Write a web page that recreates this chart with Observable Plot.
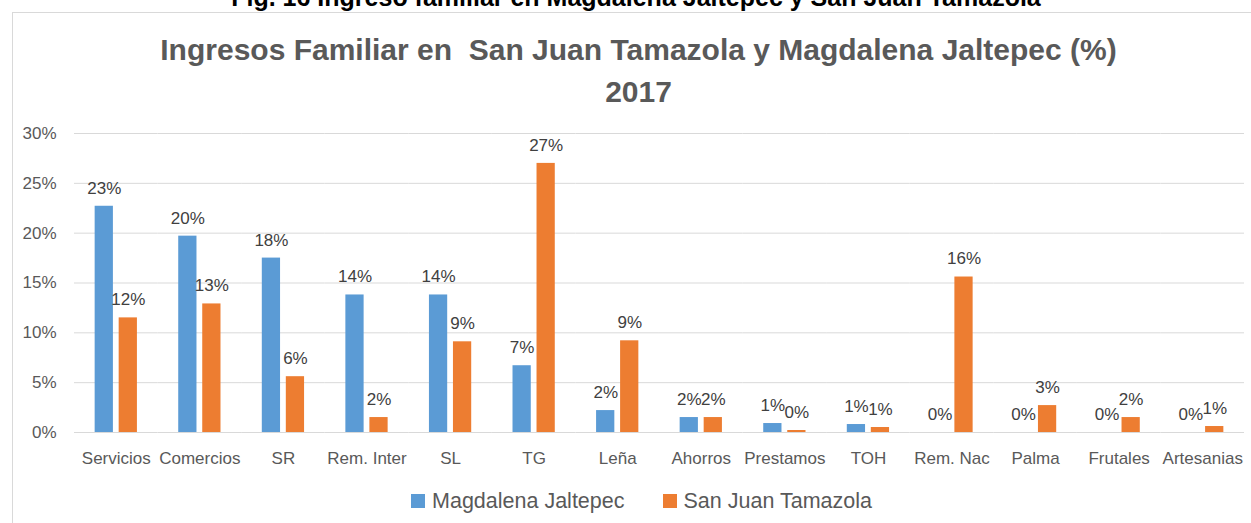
<!DOCTYPE html>
<html>
<head>
<meta charset="utf-8">
<script src="https://cdn.jsdelivr.net/npm/d3@7"></script>
<script src="https://cdn.jsdelivr.net/npm/@observablehq/plot@0.6"></script>
<style>
  html, body { margin: 0; padding: 0; background: #fff; overflow: hidden; }
  #page { position: relative; width: 1251px; height: 523px; overflow: hidden; font-family: "Liberation Sans", Arial, sans-serif; }
  #fig { position: absolute; left: 0; width: 1272px; top: -15px; line-height: 25px; text-align: center; font-weight: bold; font-size: 25px; color: #000; white-space: nowrap; }
  #frame { position: absolute; left: 12px; top: 12px; width: 1300px; height: 600px; border: 1px solid #d9d9d9; box-sizing: border-box; }
  #title { position: absolute; left: 0; width: 1277px; top: 29px; text-align: center; font-weight: bold; font-size: 30px; line-height: 42px; color: #595959; white-space: nowrap; }
  #chart { position: absolute; left: 0; top: 110px; }
  #legend { position: absolute; left: 0; width: 1283px; top: 486px; height: 30px; display: flex; justify-content: center; align-items: center; font-size: 21.5px; color: #595959; }
  #legend span.item { display: flex; align-items: center; margin: 0 19px; }
  #legend span.sw { display: inline-block; width: 14px; height: 14px; margin-right: 7px; }
</style>
</head>
<body>
<div id="page">
  <div id="frame"></div>
  <div id="fig">Fig. 16 Ingreso familiar en Magdalena Jaltepec y San Juan Tamazola</div>
  <div id="title">Ingresos Familiar en&nbsp; San Juan Tamazola y Magdalena Jaltepec (%)<br>2017</div>
  <div id="chart"></div>
  <div id="legend"></div>
</div>
<script>
const categories = ["Servicios", "Comercios", "SR", "Rem. Inter", "SL", "TG", "Leña", "Ahorros", "Prestamos", "TOH", "Rem. Nac", "Palma", "Frutales", "Artesanias"];
const seriesNames = ["Magdalena Jaltepec", "San Juan Tamazola"];
const magdalena = [22.7, 19.7, 17.5, 13.8, 13.8, 6.7, 2.2, 1.5, 0.9, 0.8, 0, 0, 0, 0];
const tamazola  = [11.5, 12.9, 5.6, 1.5, 9.1, 27.0, 9.2, 1.5, 0.2, 0.5, 15.6, 2.7, 1.5, 0.6];
const yTicks = [0, 5, 10, 15, 20, 25, 30];
const colors = ["#5B9BD5", "#ED7D31"];

const data = [];
categories.forEach((c, i) => {
  data.push({cat: c, series: seriesNames[0], value: magdalena[i]});
  data.push({cat: c, series: seriesNames[1], value: tamazola[i]});
});

const font = "'Liberation Sans', Arial, sans-serif";
const chart = Plot.plot({
  width: 1251,
  height: 370,
  marginTop: 23,
  marginBottom: 48,
  marginLeft: 74,
  marginRight: 7,
  style: {fontFamily: font, fontSize: "17px", color: "#595959", background: "transparent", overflow: "visible"},
  fx: {domain: categories, padding: 0, round: false, label: null, tickSize: 0, tickPadding: 19, axis: "bottom"},
  x: {domain: seriesNames, paddingInner: 0.24, paddingOuter: 0.86, round: false, axis: null},
  y: {domain: [0, 30], ticks: yTicks, tickFormat: d => d + "%", tickSize: 0, tickPadding: 18, label: null},
  color: {domain: seriesNames, range: colors},
  marks: [
    Plot.gridY(yTicks, {stroke: "#d9d9d9", strokeOpacity: 1, strokeWidth: 1}),
    Plot.barY(data, {fx: "cat", x: "series", y: "value", fill: "series"}),
    Plot.text(data, {fx: "cat", x: "series", y: "value", text: d => Math.round(d.value) + "%", dy: -18, fontSize: 17, fill: "#404040"})
  ]
});
document.getElementById("chart").appendChild(chart);

const legend = document.getElementById("legend");
seriesNames.forEach((s, i) => {
  const item = document.createElement("span");
  item.className = "item";
  const sw = document.createElement("span");
  sw.className = "sw";
  sw.style.background = colors[i];
  item.appendChild(sw);
  item.appendChild(document.createTextNode(s));
  legend.appendChild(item);
});
</script>
</body>
</html>
